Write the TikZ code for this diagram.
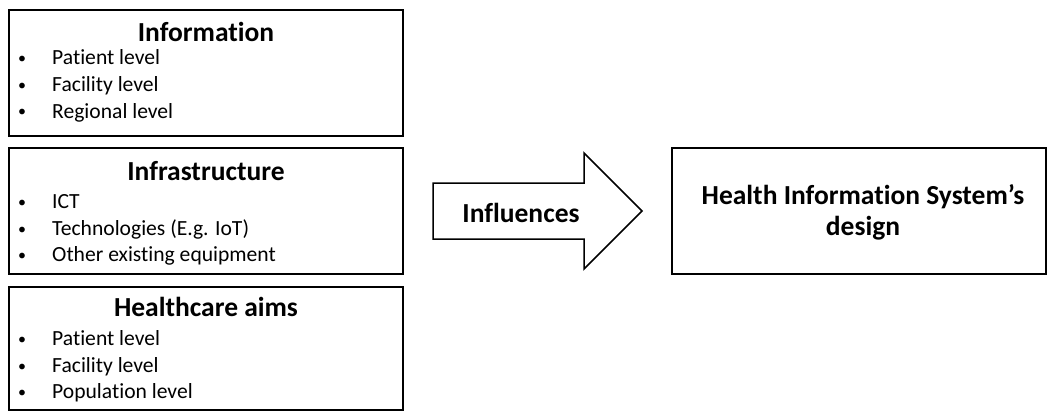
\documentclass[tikz,border=0pt]{standalone}
\usepackage{fontspec}
\setmainfont{Carlito}[Ligatures=CommonOff]
\begin{document}
\begin{tikzpicture}[x=1pt,y=-1pt,
  panel/.style={draw=black,line width=1.6pt,fill=white},
  heading/.style={anchor=base,font=\bfseries\fontsize{27.5}{31}\selectfont,inner sep=0pt},
  itemtext/.style={anchor=base west,font=\fontsize{21.6}{26}\selectfont,inner sep=0pt},
  dot/.style={anchor=base,font=\fontsize{16}{20}\selectfont,inner sep=0pt}]
  \useasboundingbox (0,0) rectangle (1058,412);

  % left column: three factor panels
  \draw[panel] (9,10) rectangle (403,136);
  \draw[panel] (9,148) rectangle (403,274);
  \draw[panel] (9,287) rectangle (403,410);

  \node[heading] (t1) at (206,42) {Information};
  \node[dot] (d11) at (22,64) {•};  \node[itemtext] (i11) at (52,65) {Patient level};
  \node[dot] (d12) at (22,91) {•};  \node[itemtext] (i12) at (52,92) {Facility level};
  \node[dot] (d13) at (22,117) {•}; \node[itemtext] (i13) at (52,118) {Regional level};

  \node[heading] (t2) at (206,180) {Infrastructure};
  \node[dot] (d21) at (22,207) {•}; \node[itemtext] (i21) at (52,208) {ICT};
  \node[dot] (d22) at (22,234) {•}; \node[itemtext] (i22) at (52,235) {Technologies (E.g. IoT)};
  \node[dot] (d23) at (22,260) {•}; \node[itemtext] (i23) at (52,261) {Other existing equipment};

  \node[heading] (t3) at (206,316) {Healthcare aims};
  \node[dot] (d31) at (22,344) {•}; \node[itemtext] (i31) at (52,345) {Patient level};
  \node[dot] (d32) at (22,371) {•}; \node[itemtext] (i32) at (52,372) {Facility level};
  \node[dot] (d33) at (22,397) {•}; \node[itemtext] (i33) at (52,398) {Population level};

  % block arrow
  \draw[panel,line width=1.5pt,line join=miter]
    (433,183) -- (584,183) -- (584,153) -- (642,211) -- (584,269) -- (584,239) -- (433,239) -- cycle;
  \node[heading] (infl) at (521,222) {Influences};

  % outcome panel
  \draw[panel] (672,148) rectangle (1046,274);
  \node[heading] (o1) at (863,204) {Health Information System’s};
  \node[heading] (o2) at (863,235) {design};
\end{tikzpicture}
\end{document}
